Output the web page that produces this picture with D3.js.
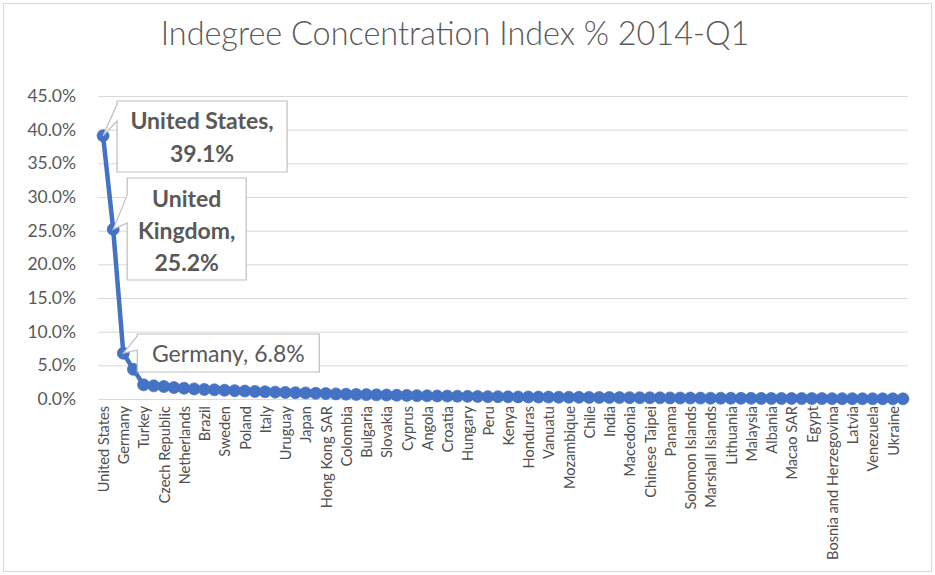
<!DOCTYPE html>
<html>
<head>
<meta charset="utf-8">
<script src="https://cdn.jsdelivr.net/npm/d3@7"></script>
<style>
  html, body { margin: 0; padding: 0; background: #fff; }
  svg { display: block; font-family: Lato, "Open Sans", sans-serif; }
</style>
</head>
<body>
<svg id="chart" width="935" height="575"></svg>
<script>
// Countries ranked by indegree concentration, 2014-Q1
const countries = [
  "United States", "United Kingdom", "Germany", "France", "Turkey", "Canada",
  "Czech Republic", "Spain", "Netherlands", "Russia", "Brazil", "Australia",
  "Sweden", "Switzerland", "Poland", "Belgium", "Italy", "Argentina",
  "Uruguay", "Mexico", "Japan", "Korea", "Hong Kong SAR", "Israel",
  "Colombia", "South Africa", "Bulgaria", "Romania", "Slovakia", "Greece",
  "Cyprus", "Portugal", "Angola", "Nigeria", "Croatia", "Slovenia",
  "Hungary", "Austria", "Peru", "Ecuador", "Kenya", "Ghana",
  "Honduras", "Guatemala", "Vanuatu", "Fiji", "Mozambique", "Tanzania",
  "Chile", "Bolivia", "India", "Pakistan", "Macedonia", "Serbia",
  "Chinese Taipei", "Singapore", "Panama", "Costa Rica", "Solomon Islands", "Papua New Guinea",
  "Marshall Islands", "Palau", "Lithuania", "Estonia", "Malaysia", "Indonesia",
  "Albania", "Montenegro", "Macao SAR", "China", "Egypt", "Jordan",
  "Bosnia and Herzegovina", "Moldova", "Latvia", "Belarus", "Venezuela", "Paraguay",
  "Ukraine", "Kazakhstan"
];

// Index value in percent, same order as countries
const indexPct = [
  39.1, 25.2, 6.8, 4.4, 2.1, 1.95,
  1.85, 1.7, 1.6, 1.5, 1.42, 1.36,
  1.3, 1.24, 1.18, 1.12, 1.07, 1.02,
  0.98, 0.94, 0.9, 0.85, 0.8, 0.76,
  0.72, 0.68, 0.65, 0.62, 0.59, 0.56,
  0.53, 0.5, 0.47, 0.45, 0.43, 0.41,
  0.39, 0.37, 0.35, 0.34, 0.32, 0.31,
  0.3, 0.29, 0.28, 0.27, 0.26, 0.25,
  0.24, 0.23, 0.22, 0.21, 0.2, 0.19,
  0.18, 0.17, 0.16, 0.15, 0.14, 0.13,
  0.12, 0.115, 0.11, 0.1, 0.095, 0.09,
  0.085, 0.08, 0.075, 0.07, 0.065, 0.06,
  0.055, 0.05, 0.045, 0.04, 0.035, 0.03,
  0.025, 0.02
];

const yTicks = [0, 5, 10, 15, 20, 25, 30, 35, 40, 45];

// Callout annotations: which country, text lines, bold or not
const callouts = [
  { country: "United States", lines: ["United States,", "39.1%"], bold: true },
  { country: "United Kingdom", lines: ["United", "Kingdom,", "25.2%"], bold: true },
  { country: "Germany", lines: ["Germany, 6.8%"], bold: false }
];

const title = "Indegree Concentration Index % 2014-Q1";

const W = 935, H = 575;
const plot = { left: 98, right: 908, top: 96, bottom: 399 };
const textColor = "#595959";
const gridColor = "#d9d9d9";
const lineColor = "#4472C4";

const svg = d3.select("#chart");

// Chart frame
svg.append("rect")
  .attr("x", 3.5).attr("y", 3.5)
  .attr("width", W - 7).attr("height", H - 7)
  .attr("fill", "#fff").attr("stroke", gridColor).attr("stroke-width", 1);

// Title
svg.append("text")
  .attr("x", 455).attr("y", 45)
  .attr("text-anchor", "middle")
  .attr("font-size", 32.4)
  .attr("font-weight", 300)
  .attr("fill", textColor)
  .text(title);

const x = d3.scalePoint()
  .domain(countries)
  .range([plot.left, plot.right])
  .padding(0.5);

const y = d3.scaleLinear()
  .domain([0, 45])
  .range([plot.bottom, plot.top]);

// Horizontal gridlines + y labels
const yAxis = d3.axisLeft(y)
  .tickValues(yTicks)
  .tickSize(-(plot.right - plot.left))
  .tickPadding(22)
  .tickFormat(d => d3.format(".1f")(d) + "%");

const gy = svg.append("g")
  .attr("transform", `translate(${plot.left},0)`)
  .call(yAxis);
gy.select(".domain").remove();
gy.selectAll(".tick line").attr("stroke", gridColor).attr("stroke-width", 1);
gy.selectAll(".tick text")
  .attr("fill", textColor)
  .attr("font-size", 17.5)
  .attr("font-family", "Lato, sans-serif");

// Category axis: every other country labelled
const xAxis = d3.axisBottom(x)
  .tickValues(countries.filter((c, i) => i % 2 === 0))
  .tickSize(0)
  .tickPadding(0);

const gx = svg.append("g")
  .attr("transform", `translate(0,${plot.bottom})`)
  .call(xAxis);
gx.select(".domain").attr("stroke", gridColor);
gx.selectAll(".tick text")
  .attr("fill", "#505050")
  .attr("font-size", 14.6)
  .attr("font-family", "Lato, sans-serif")
  .attr("text-anchor", "end")
  .attr("transform", "rotate(-90)")
  .attr("x", -7)
  .attr("y", 0)
  .attr("dy", "0.36em");

// Series line
const series = countries.map((c, i) => ({ c, v: indexPct[i] }));
const line = d3.line().x(d => x(d.c)).y(d => y(d.v));

svg.append("path")
  .datum(series)
  .attr("fill", "none")
  .attr("stroke", lineColor)
  .attr("stroke-width", 4.5)
  .attr("stroke-linejoin", "round")
  .attr("d", line);

svg.append("g")
  .selectAll("circle")
  .data(series)
  .join("circle")
  .attr("cx", d => x(d.c))
  .attr("cy", d => y(d.v))
  .attr("r", 6)
  .attr("fill", lineColor)
  .attr("stroke", lineColor)
  .attr("stroke-width", 0.75);

// Callout boxes with wedge pointers toward their points
const calloutLayout = {
  "United States": { dx: 14, top: 101, w: 170, h: 71, b1: 3, b2: 20, lh: 33, first: 28 },
  "United Kingdom": { dx: 14, top: 178, w: 119, h: 102, b1: 17, b2: 45, lh: 32, first: 29 },
  "Germany": { dx: 14, top: 334, w: 182, h: 38, b1: 2, b2: 16, lh: 0, first: 28 }
};

callouts.forEach(co => {
  const i = countries.indexOf(co.country);
  const px = x(co.country), py = y(indexPct[i]);
  const L = calloutLayout[co.country];
  const x0 = px + L.dx, y0 = L.top, x1 = x0 + L.w, y1 = y0 + L.h;
  const g = svg.append("g");
  g.append("path")
    .attr("d", `M${x0},${y0} H${x1} V${y1} H${x0} V${y0 + L.b2} L${px},${py} L${x0},${y0 + L.b1} Z`)
    .attr("fill", "#fff")
    .attr("stroke", "#bfbfbf")
    .attr("stroke-width", 1.2);
  co.lines.forEach((t, k) => {
    g.append("text")
      .attr("x", (x0 + x1) / 2)
      .attr("y", y0 + L.first + k * L.lh)
      .attr("text-anchor", "middle")
      .attr("font-size", 23)
      .attr("font-weight", co.bold ? 700 : 400)
      .attr("fill", textColor)
      .text(t);
  });
});
</script>
</body>
</html>
